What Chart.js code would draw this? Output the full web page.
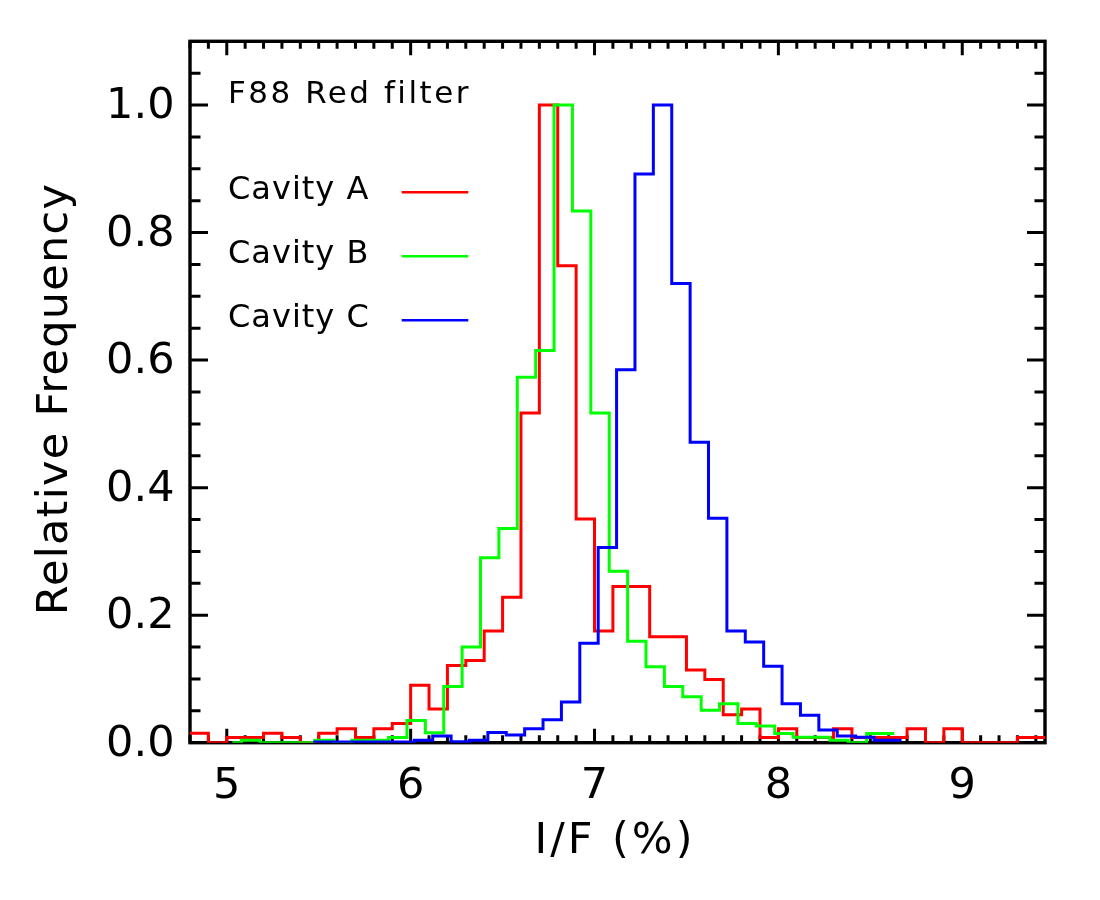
<!DOCTYPE html>
<html>
<head>
<meta charset="utf-8">
<script src="https://cdn.jsdelivr.net/npm/chart.js@4/dist/chart.umd.min.js"></script>
<style>
html,body{margin:0;padding:0;background:#ffffff;}
#wrap{width:1100px;height:900px;}
</style>
</head>
<body>
<div id="wrap"><canvas id="c" width="1100" height="900"></canvas></div>
<script>
// ---- data (bin centres start + step; IDL-style histogram steps) ----
const binWidth = 0.1;
const cavityAStart = 4.75;
const cavityA = [0.015, 0.015, 0, 0.008, 0.008, 0.015, 0.008, 0, 0.015, 0.022,
  0.008, 0.022, 0.030, 0.090, 0.053, 0.121, 0.129, 0.175, 0.228, 0.517,
  1.0, 0.748, 0.351, 0.175, 0.245, 0.245, 0.166, 0.166, 0.114, 0.099,
  0.044, 0.053, 0.008, 0.022, 0.008, 0.008, 0.022, 0.008, 0.008, 0.008,
  0.022, 0, 0.022, 0, 0, 0, 0.008, 0.008, 0.008];
const cavityBStart = 5.03;
const cavityB = [0, 0.004, 0, 0, 0, 0.004, 0, 0.004, 0.004, 0.008,
  0.035, 0.0155, 0.088, 0.150, 0.290, 0.336, 0.573, 0.615, 1.0, 0.834,
  0.517, 0.269, 0.159, 0.119, 0.088, 0.072, 0.051, 0.061, 0.030, 0.026,
  0.0145, 0.0084, 0.0084, 0.004, 0, 0.0145, 0.0145];
const cavityCStart = 5.47;
const cavityC = [0.001, 0.001, 0.001, 0.001, 0.001, 0.001, 0.004, 0.0104, 0.0015, 0.004,
  0.016, 0.012, 0.022, 0.036, 0.064, 0.156, 0.306, 0.585, 0.892, 1.0,
  0.72, 0.471, 0.352, 0.175, 0.158, 0.120, 0.061, 0.043, 0.020, 0.0104,
  0.0084, 0.004, 0.004];
const seriesNames = ['Cavity A', 'Cavity B', 'Cavity C'];
const seriesColors = ['#ff0000', '#00ff00', '#0000ff'];
const xTickLabels = ['5', '6', '7', '8', '9'];
const yTickLabels = ['0.0', '0.2', '0.4', '0.6', '0.8', '1.0'];
const plotTitle = 'F88 Red filter';
const xTitle = 'I/F (%)';
const yTitle = 'Relative Frequency';

function toPoints(start, vals) {
  return vals.map((v, i) => ({ x: Math.round((start + i * binWidth) * 1000) / 1000, y: v }));
}

const FONT = "'DejaVu Sans', 'Liberation Sans', sans-serif";

const framePlugin = {
  id: 'frame',
  beforeDatasetsDraw(chart) {
    const { ctx, chartArea: a, scales } = chart;
    const xs = scales.x, ys = scales.y;
    ctx.save();
    ctx.strokeStyle = '#000';
    ctx.lineCap = 'butt';
    ctx.lineWidth = 3;
    ctx.beginPath();
    // x ticks every 0.1, major at integers
    for (let i = 48; i <= 94; i++) {
      const px = xs.getPixelForValue(i / 10);
      const len = (i % 10 === 0) ? 14 : 7.5;
      ctx.moveTo(px, a.bottom); ctx.lineTo(px, a.bottom - len);
      ctx.moveTo(px, a.top); ctx.lineTo(px, a.top + len);
    }
    // y ticks every 0.05, major every 0.2
    for (let k = 1; k <= 21; k++) {
      const py = ys.getPixelForValue(k * 0.05);
      const len = (k % 4 === 0) ? 18 : 10.5;
      ctx.moveTo(a.left, py); ctx.lineTo(a.left + len, py);
      ctx.moveTo(a.right, py); ctx.lineTo(a.right - len, py);
    }
    ctx.stroke();
    ctx.lineWidth = 3.4;
    ctx.strokeRect(a.left, a.top, a.right - a.left, a.bottom - a.top);
    ctx.restore();
  },
  afterDraw(chart) {
    const { ctx } = chart;
    ctx.save();
    ctx.fillStyle = '#000';
    ctx.textBaseline = 'alphabetic';
    // annotation
    ctx.font = '31px ' + FONT;
    ctx.letterSpacing = '2.5px';
    ctx.textAlign = 'left';
    ctx.fillText(plotTitle, 228, 102.7);
    // legend
    ctx.font = '32px ' + FONT;
    ctx.letterSpacing = '1px';
    const baselines = [199.3, 262.7, 326.7];
    const lineYs = [192.3, 256.2, 320.2];
    for (let i = 0; i < 3; i++) {
      ctx.fillStyle = '#000';
      ctx.fillText(seriesNames[i], 228, baselines[i]);
      ctx.strokeStyle = seriesColors[i];
      ctx.lineWidth = 2.5;
      ctx.beginPath();
      ctx.moveTo(401.7, lineYs[i]);
      ctx.lineTo(468.3, lineYs[i]);
      ctx.stroke();
    }
    // axis titles
    ctx.fillStyle = '#000';
    ctx.font = '43px ' + FONT;
    ctx.letterSpacing = '3px';
    ctx.textAlign = 'center';
    ctx.fillText(xTitle, 615, 853.3);
    ctx.letterSpacing = '1.3px';
    ctx.translate(66.7, 399);
    ctx.rotate(-Math.PI / 2);
    ctx.fillText(yTitle, 0, 0);
    ctx.restore();
  }
};

const chart = new Chart(document.getElementById('c'), {
  type: 'line',
  data: {
    datasets: [
      { label: seriesNames[0], data: toPoints(cavityAStart, cavityA), borderColor: seriesColors[0], order: 2 },
      { label: seriesNames[1], data: toPoints(cavityBStart, cavityB), borderColor: seriesColors[1], order: 1 },
      { label: seriesNames[2], data: toPoints(cavityCStart, cavityC), borderColor: seriesColors[2], order: 0 }
    ]
  },
  options: {
    responsive: false,
    animation: false,
    devicePixelRatio: 1,
    layout: { padding: { left: 0, right: 55, top: 39.3, bottom: 0 } },
    elements: {
      line: { borderWidth: 3, stepped: 'middle', tension: 0, fill: false, borderCapStyle: 'butt', borderJoinStyle: 'miter' },
      point: { radius: 0, hoverRadius: 0 }
    },
    plugins: { legend: { display: false }, tooltip: { enabled: false }, title: { display: false } },
    scales: {
      x: {
        type: 'linear', min: 4.8, max: 9.45,
        grid: { display: false, drawTicks: false },
        border: { display: false },
        ticks: {
          stepSize: 1, includeBounds: false, padding: 18,
          color: '#000', font: { family: FONT, size: 43 },
          callback: (v) => { const s = String(Math.round(v)); return xTickLabels.includes(s) ? s : ''; }
        },
        afterFit: (s) => { s.height = 900 - 742.7; }
      },
      y: {
        type: 'linear', min: 0, max: 1.1,
        grid: { display: false, drawTicks: false },
        border: { display: false },
        ticks: {
          stepSize: 0.2, includeBounds: false, padding: 15.5, labelOffset: 2,
          color: '#000', font: { family: FONT, size: 43 },
          callback: (v) => { const s = Number(v).toFixed(1); return yTickLabels.includes(s) ? s : ''; }
        },
        afterFit: (s) => { s.width = 190; }
      }
    }
  },
  plugins: [framePlugin]
});
</script>
</body>
</html>
